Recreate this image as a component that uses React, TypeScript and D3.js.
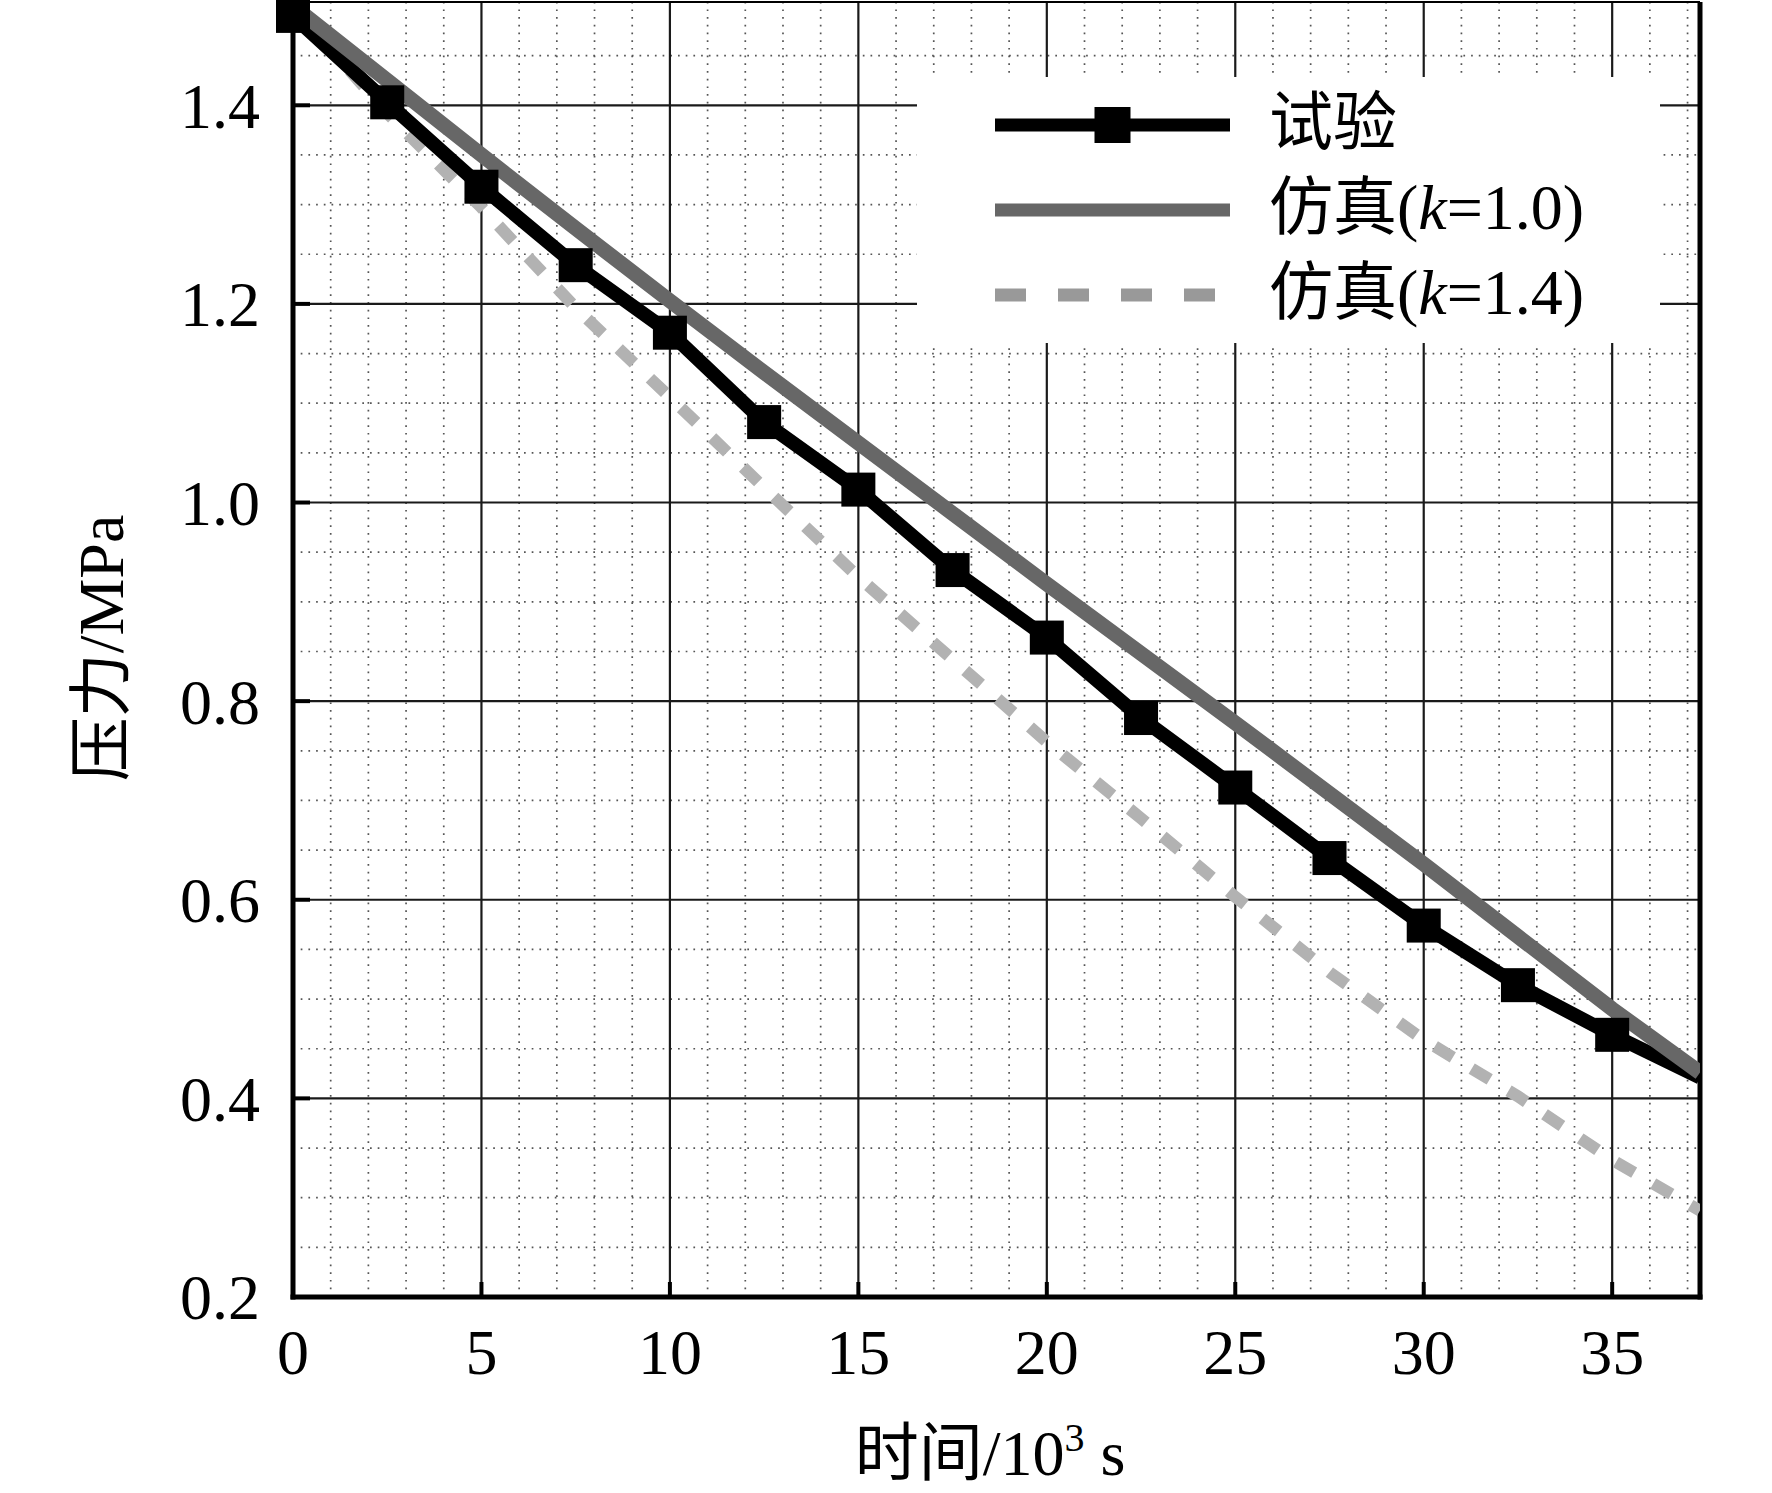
import React, { useRef, useEffect } from 'react';
import * as d3 from 'd3';

const timeTest = [0, 2.5, 5, 7.5, 10, 12.5, 15, 17.5, 20, 22.5, 25, 27.5, 30, 32.5, 35, 37.33];
const pressureTest = [1.49, 1.403, 1.318, 1.239, 1.171, 1.081, 1.013, 0.932, 0.864, 0.783, 0.713, 0.642, 0.574, 0.514, 0.464, 0.421];
const markerTimes = [0, 2.5, 5, 7.5, 10, 12.5, 15, 17.5, 20, 22.5, 25, 27.5, 30, 32.5, 35];

const timeSim = [0, 2.5, 5, 7.5, 10, 12.5, 15, 17.5, 20, 22.5, 25, 27.5, 30, 32.5, 35, 37.33];
const pressureK10 = [1.5, 1.425, 1.35, 1.276, 1.203, 1.131, 1.06, 0.989, 0.918, 0.848, 0.778, 0.707, 0.636, 0.563, 0.49, 0.426];
const pressureK14 = [1.5, 1.392, 1.297, 1.196, 1.106, 1.015, 0.925, 0.842, 0.759, 0.682, 0.603, 0.527, 0.459, 0.402, 0.338, 0.287];

const xTicks = [0, 5, 10, 15, 20, 25, 30, 35];
const yTicks = [0.2, 0.4, 0.6, 0.8, 1.0, 1.2, 1.4];
const xMinor = d3.range(1, 38).filter((v) => v % 5 !== 0);
const yMinor = d3.range(0.25, 1.5, 0.05).map((v) => +v.toFixed(2)).filter((v) => Math.round(v * 100) % 20 !== 0);

const legendLabels = ['试验', '仿真(k=1.0)', '仿真(k=1.4)'];

const WIDTH = 1772;
const HEIGHT = 1493;
const FONT = "'Liberation Serif', 'Times New Roman', 'Noto Sans CJK SC', serif";

const COL_TEST = '#000000';
const COL_K10 = '#676767';
const COL_K14 = '#b2b2b2';
const COL_K14_LEGEND = '#999999';

interface Pt {
  t: number;
  p: number;
}

const App: React.FC = () => {
  const svgRef = useRef<SVGSVGElement | null>(null);

  useEffect(() => {
    if (!svgRef.current) return;
    const svg = d3.select<SVGSVGElement, unknown>(svgRef.current);
    svg.selectAll('*').remove();

    const x = d3.scaleLinear().domain([0, 37.33]).range([293, 1700]);
    const y = d3.scaleLinear().domain([0.2, 1.504]).range([1297, 2]);
    const [x0, x1] = x.range();
    const [y0, y1] = y.range();

    svg.append('rect').attr('width', WIDTH).attr('height', HEIGHT).attr('fill', '#fff');

    svg.append('defs').append('clipPath').attr('id', 'plotClip')
      .append('rect')
      .attr('x', x0).attr('y', y1)
      .attr('width', x1 - x0).attr('height', y0 - y1);

    // minor dotted grid
    const grid = svg.append('g');
    grid.selectAll('line.xm').data(xMinor).enter().append('line')
      .attr('x1', (d) => x(d)).attr('x2', (d) => x(d))
      .attr('y1', y0).attr('y2', y1)
      .attr('stroke', '#555').attr('stroke-width', 1.7)
      .attr('stroke-dasharray', '1.7 6');
    grid.selectAll('line.ym').data(yMinor).enter().append('line')
      .attr('y1', (d) => y(d)).attr('y2', (d) => y(d))
      .attr('x1', x0).attr('x2', x1)
      .attr('stroke', '#555').attr('stroke-width', 1.7)
      .attr('stroke-dasharray', '1.7 6');

    // major grid
    grid.selectAll('line.xM').data(xTicks.slice(1)).enter().append('line')
      .attr('x1', (d) => x(d)).attr('x2', (d) => x(d))
      .attr('y1', y0).attr('y2', y1)
      .attr('stroke', '#1a1a1a').attr('stroke-width', 2.2);
    grid.selectAll('line.yM').data(yTicks.slice(1)).enter().append('line')
      .attr('y1', (d) => y(d)).attr('y2', (d) => y(d))
      .attr('x1', x0).attr('x2', x1)
      .attr('stroke', '#1a1a1a').attr('stroke-width', 2.2);

    // legend box hides the grid behind it
    const legend = svg.append('g');
    legend.append('rect')
      .attr('x', 917).attr('y', 77)
      .attr('width', 743).attr('height', 266)
      .attr('fill', '#fff');

    // frame
    const frame = svg.append('g');
    frame.append('line').attr('x1', x0).attr('x2', x1).attr('y1', y1).attr('y2', y1)
      .attr('stroke', '#000').attr('stroke-width', 2);
    frame.append('line').attr('x1', x0).attr('x2', x0).attr('y1', y1).attr('y2', y0 + 2.5)
      .attr('stroke', '#000').attr('stroke-width', 5);
    frame.append('line').attr('x1', x1).attr('x2', x1).attr('y1', y1).attr('y2', y0 + 2.5)
      .attr('stroke', '#000').attr('stroke-width', 5);
    frame.append('line').attr('x1', x0 - 2.5).attr('x2', x1 + 2.5).attr('y1', y0).attr('y2', y0)
      .attr('stroke', '#000').attr('stroke-width', 5);

    // ticks
    frame.selectAll('line.yt').data(yTicks.slice(1)).enter().append('line')
      .attr('x1', x0).attr('x2', x0 + 17)
      .attr('y1', (d) => y(d)).attr('y2', (d) => y(d))
      .attr('stroke', '#000').attr('stroke-width', 4);
    frame.selectAll('line.xt').data(xTicks.slice(1)).enter().append('line')
      .attr('x1', (d) => x(d)).attr('x2', (d) => x(d))
      .attr('y1', y0).attr('y2', y0 - 15)
      .attr('stroke', '#000').attr('stroke-width', 4);

    // tick labels
    svg.append('g').selectAll('text').data(yTicks).enter().append('text')
      .attr('x', x0 - 33).attr('y', (d) => y(d))
      .attr('dy', '0.35em')
      .attr('text-anchor', 'end')
      .style('font-family', FONT).style('font-size', '64px')
      .text((d) => d.toFixed(1));
    svg.append('g').selectAll('text').data(xTicks).enter().append('text')
      .attr('x', (d) => x(d)).attr('y', y0 + 77)
      .attr('text-anchor', 'middle')
      .style('font-family', FONT).style('font-size', '64px')
      .text((d) => String(d));

    // axis titles
    svg.append('text')
      .attr('transform', 'translate(123,648) rotate(-90)')
      .attr('text-anchor', 'middle')
      .style('font-family', FONT).style('font-size', '64px')
      .text('压力/MPa');

    const xt = svg.append('text')
      .attr('x', 990).attr('y', 1475)
      .attr('text-anchor', 'middle')
      .style('font-family', FONT).style('font-size', '64px');
    xt.append('tspan').text('时间/10');
    xt.append('tspan').attr('dy', -24).style('font-size', '40px').text('3');
    xt.append('tspan').attr('dy', 24).text(' s');

    // series
    const line = d3.line<Pt>().x((d) => x(d.t)).y((d) => y(d.p));
    const testData: Pt[] = timeTest.map((t, i) => ({ t, p: pressureTest[i] }));
    const k10Data: Pt[] = timeSim.map((t, i) => ({ t, p: pressureK10[i] }));
    const k14Data: Pt[] = timeSim.map((t, i) => ({ t, p: pressureK14[i] }));

    const plot = svg.append('g').attr('clip-path', 'url(#plotClip)');
    plot.append('path').datum(k14Data)
      .attr('d', line).attr('fill', 'none')
      .attr('stroke', COL_K14).attr('stroke-width', 12)
      .attr('stroke-dasharray', '21 22');
    plot.append('path').datum(testData)
      .attr('d', line).attr('fill', 'none')
      .attr('stroke', COL_TEST).attr('stroke-width', 14)
      .attr('stroke-linejoin', 'round');
    plot.append('path').datum(k10Data)
      .attr('d', line).attr('fill', 'none')
      .attr('stroke', COL_K10).attr('stroke-width', 15);

    const ms = 34;
    svg.append('g').selectAll('rect').data(testData.filter((d) => markerTimes.includes(d.t)))
      .enter().append('rect')
      .attr('x', (d) => x(d.t) - ms / 2).attr('y', (d) => y(d.p) - ms / 2)
      .attr('width', ms).attr('height', ms)
      .attr('fill', COL_TEST);

    // legend entries
    const rows = [125, 210, 295];
    const lx0 = 995;
    const lx1 = 1230;
    legend.raise();
    legend.append('line').attr('x1', lx0).attr('x2', lx1).attr('y1', rows[0]).attr('y2', rows[0])
      .attr('stroke', COL_TEST).attr('stroke-width', 13);
    legend.append('rect').attr('x', (lx0 + lx1) / 2 - 18).attr('y', rows[0] - 18)
      .attr('width', 36).attr('height', 36).attr('fill', COL_TEST);
    legend.append('line').attr('x1', lx0).attr('x2', lx1).attr('y1', rows[1]).attr('y2', rows[1])
      .attr('stroke', COL_K10).attr('stroke-width', 13);
    legend.append('line').attr('x1', lx0).attr('x2', lx1).attr('y1', rows[2]).attr('y2', rows[2])
      .attr('stroke', COL_K14_LEGEND).attr('stroke-width', 13)
      .attr('stroke-dasharray', '31 32');

    legendLabels.forEach((label, i) => {
      const txt = legend.append('text')
        .attr('x', 1269).attr('y', rows[i]).attr('dy', '0.3em')
        .style('font-family', FONT).style('font-size', '64px');
      const m = label.match(/^(.*\()k(=.*)$/);
      if (m) {
        txt.append('tspan').text(m[1]);
        txt.append('tspan').style('font-style', 'italic').text('k');
        txt.append('tspan').text(m[2]);
      } else {
        txt.text(label);
      }
    });
  }, []);

  return (
    <svg
      ref={svgRef}
      width={WIDTH}
      height={HEIGHT}
      style={{ position: 'absolute', left: 0, top: 0, display: 'block' }}
    />
  );
};

export default App;
